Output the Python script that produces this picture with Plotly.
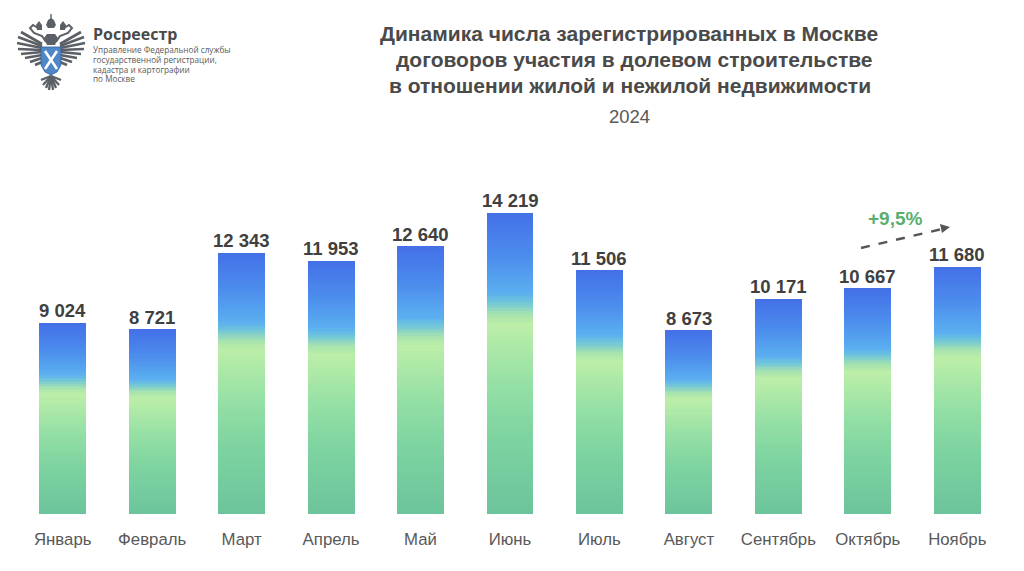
import plotly.graph_objects as go

months = ["Январь", "Февраль", "Март", "Апрель", "Май", "Июнь", "Июль", "Август", "Сентябрь", "Октябрь", "Ноябрь"]
values = [9024, 8721, 12343, 11953, 12640, 14219, 11506, 8673, 10171, 10667, 11680]
value_labels = ["9 024", "8 721", "12 343", "11 953", "12 640", "14 219", "11 506", "8 673", "10 171", "10 667", "11 680"]

# gradient stops: share of the bar height from the bottom, RGB
stops = [(0.0, (108, 196, 156)), (0.25, (125, 211, 160)), (0.42, (147, 223, 165)), (0.63, (188, 238, 168)),
         (0.665, (165, 226, 175)), (0.70, (115, 200, 215)), (0.735, (90, 175, 240)), (0.86, (75, 140, 236)), (1.0, (68, 112, 232))]
SEGMENTS = 120

# the page keeps an 8 px body margin; the figure fills the rest
OFF = 8
W, H = 1024 - 2 * OFF, 571 - 2 * OFF
L, R, T, B = 10, 14, 148, 49
PW, PH = W - L - R, H - T - B
def px(x): return (x - OFF - L) / PW
def py(y): return (H - B + OFF - y) / PH

def color_at(f):
    for (a, ca), (b, cb) in zip(stops, stops[1:]):
        if f <= b:
            t = (f - a) / (b - a)
            return "rgb(%d,%d,%d)" % tuple(round(p + (q - p) * t) for p, q in zip(ca, cb))
    return "rgb(%d,%d,%d)" % stops[-1][1]

fig = go.Figure()
for i in range(SEGMENTS):
    fig.add_bar(x=months, y=[v / SEGMENTS for v in values], marker=dict(color=color_at((i + 0.5) / SEGMENTS), line_width=0),
                hoverinfo="skip", showlegend=False)

ann = []
for m, v, lab in zip(months, values, value_labels):
    ann.append(dict(x=m, y=v, xref="x", yref="y", text=lab, showarrow=False, xanchor="center", yanchor="bottom", yshift=-0.5,
                    font=dict(family="Liberation Sans", size=18.5, color="#404040", weight="bold")))

def text(x, y, s, size, color, bold=False, anchor="center", family="Liberation Sans"):
    ann.append(dict(xref="paper", yref="paper", x=px(x), y=py(y), text=s, showarrow=False, xanchor=anchor, yanchor="middle",
                    font=dict(family=family, size=size, color=color, weight="bold" if bold else "normal")))

text(629, 33, "Динамика числа зарегистрированных в Москве", 21, "#4a4a4a", True)
text(634, 59, "договоров участия в долевом строительстве", 21, "#4a4a4a", True)
text(630, 85, "в отношении жилой и нежилой недвижимости", 21, "#4a4a4a", True)
text(629, 117, "2024", 18.5, "#595959")
text(895, 218, "+9,5%", 19, "#5aae6e", True)
text(91, 34, "Росреестр", 16, "#4a4a4a", True, "left", "Open Sans")
for yy, s in [(49.5, "Управление Федеральной службы"), (59, "государственной регистрации,"),
              (69, "кадастра и картографии"), (78.5, "по Москве")]:
    text(91, yy, s, 8.2, "#5a5a5a", False, "left", "Open Sans")

def path(points, fill, line=None, width=0, closed=True):
    d = "M" + " L".join(f"{px(x):.5f},{py(y):.5f}" for x, y in points) + (" Z" if closed else "")
    return dict(type="path", xref="paper", yref="paper", path=d, fillcolor=fill if closed else "rgba(0,0,0,0)",
                line=dict(color=line or fill, width=width), layer="above")
def seg(x0, y0, x1, y1, color, width):
    return dict(type="line", xref="paper", yref="paper", x0=px(x0), y0=py(y0), x1=px(x1), y1=py(y1),
                line=dict(color=color, width=width), layer="above")

shapes = []
# arrow
shapes.append(dict(type="line", xref="paper", yref="paper", x0=px(861), y0=py(248), x1=px(942), y1=py(229),
                   line=dict(color="#555555", width=2.4, dash="dash")))
shapes.append(path([(950, 227), (940, 224), (942, 233)], "#555555"))

# emblem
G = "#5b6066"
CX = 51
wing_tips = [(21, 32), (18, 37), (17, 43), (18, 49), (21, 54), (25, 58), (30, 62), (35, 65)]
wing_roots = [(42, 44), (42, 46), (42, 48), (42, 50), (42, 52), (42, 55), (42, 58), (42, 62)]
for (tx, ty), (rx, ry) in zip(wing_tips, wing_roots):
    shapes.append(seg(tx, ty, rx, ry, G, 2.7))
    shapes.append(seg(2 * CX - tx, ty, 2 * CX - rx, ry, G, 2.7))
# necks and heads
shapes.append(path([(46, 42), (42, 36), (34, 33), (30, 28), (33, 25), (38, 28)], "", G, 2, closed=False))
shapes.append(path([(56, 42), (60, 36), (68, 33), (72, 28), (69, 25), (64, 28)], "", G, 2, closed=False))
shapes.append(path([(44, 38), (47, 45), (55, 45), (58, 38), (55, 34), (47, 34)], G))
# crowns and cross
shapes.append(path([(46, 25), (48, 20), (51, 18), (54, 20), (56, 25), (54, 28), (48, 28)], G))
shapes.append(seg(CX, 14, CX, 19, G, 1.4))
shapes.append(path([(36, 25), (39, 21), (42, 25), (42, 30), (37, 30)], G))
shapes.append(path([(66, 25), (63, 21), (60, 25), (60, 30), (65, 30)], G))
# tail
for tx, ty in [(41, 80), (43, 85), (46, 88), (49, 90), (53, 90), (56, 88), (59, 85), (61, 80)]:
    shapes.append(seg(CX, 76, tx, ty, G, 2.3))
# shield
shapes.append(path([(41, 47), (61, 47), (61, 65), (57, 72), (51, 75), (45, 72), (41, 65)], "#4f86c8", "#2f5f9f", 0.8))
shapes.append(seg(45, 51, 57, 69, "#ffffff", 2.6))
shapes.append(seg(57, 51, 45, 69, "#ffffff", 2.6))

fig.update_layout(
    autosize=True,
    barmode="stack", bargap=0.475,
    margin=dict(l=L, r=R, t=T, b=B),
    paper_bgcolor="#ffffff", plot_bgcolor="#ffffff",
    xaxis=dict(range=[-0.5, 10.5], showgrid=False, showline=False, ticks="", ticklabelstandoff=13,
               tickfont=dict(family="Liberation Sans", size=16.8, color="#595959")),
    yaxis=dict(range=[0, 16910], visible=False),
    annotations=ann, shapes=shapes, showlegend=False,
)
fig.write_html("out.html", config=dict(displayModeBar=False), default_height="100%", default_width="100%")
